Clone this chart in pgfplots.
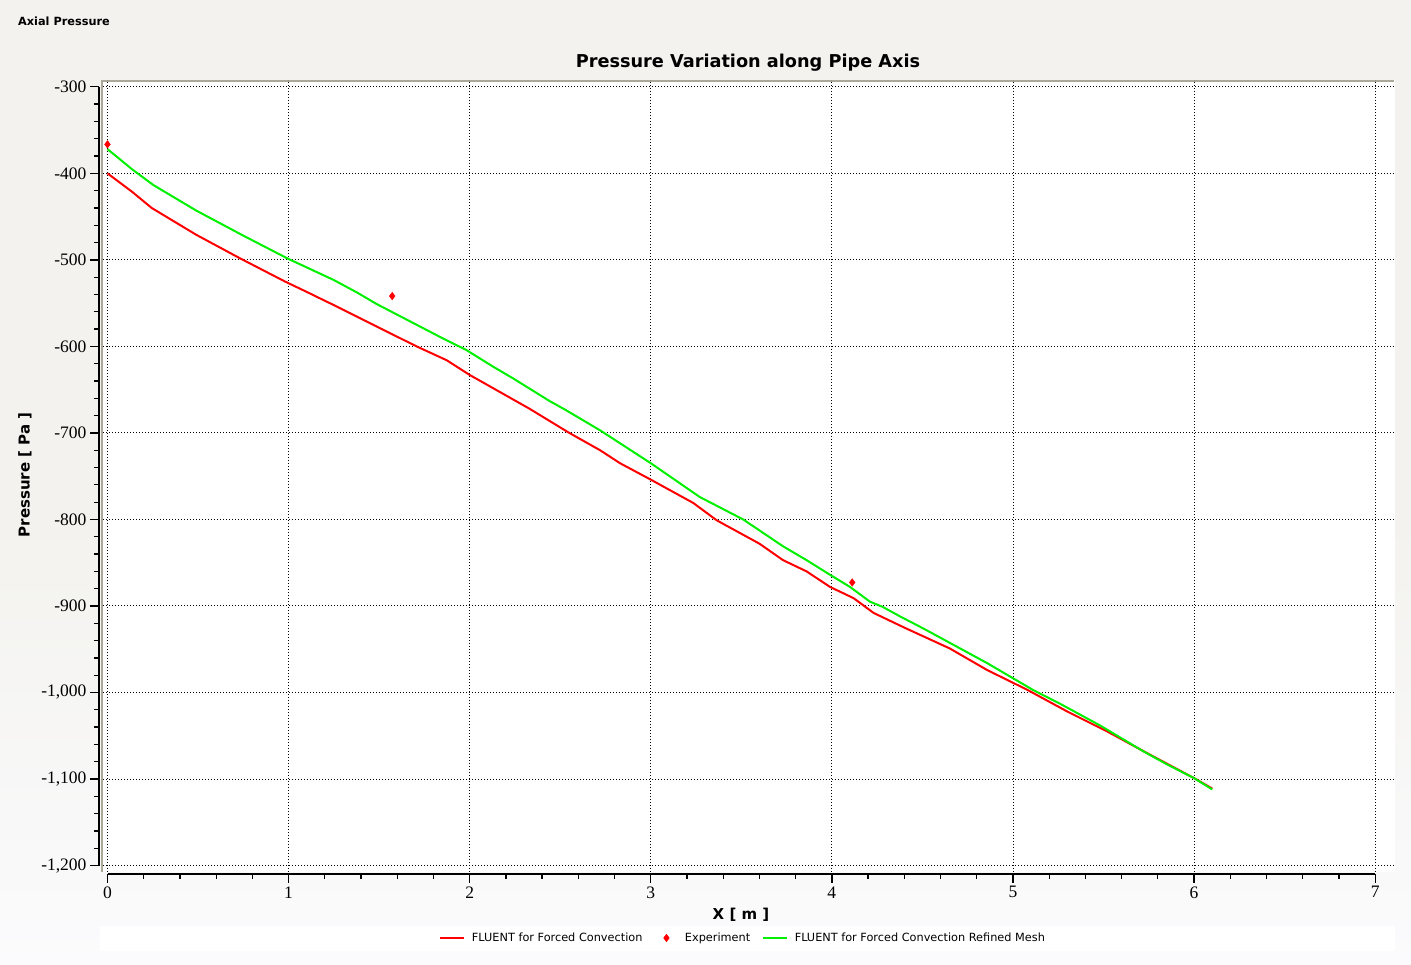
\documentclass[border=0pt]{standalone}
\usepackage{pgfplots}
\pgfplotsset{compat=1.18}
\usepackage{pgfplotstable}
\usepackage{fontspec}
\setmainfont{DejaVu Sans}
\newfontfamily\tickfont{Liberation Serif}
\definecolor{bgtop}{RGB}{243,242,238}
\definecolor{bgbot}{RGB}{251,251,253}
\definecolor{framegrey}{RGB}{172,168,153}
\definecolor{fred}{RGB}{255,0,0}
\definecolor{fgreen}{RGB}{0,240,0}
\pgfplotsset{markleg/.style={legend image code/.code={\path[draw=none,fill=none] (0pt,0pt) -- (24pt,0pt);\draw[mark repeat=2,mark phase=2,##1] plot coordinates {(0pt,0pt) (12pt,0pt) (24pt,0pt)};}}}

\pgfplotstableread{
x y
0 -400
0.134 -421
0.244 -440
0.49 -471
0.73 -498
0.98 -525
1.10 -537
1.247 -552
1.486 -577
1.707 -600
1.873 -616
2.0 -633
2.33 -672
2.44 -686
2.55 -700
2.72 -720
2.83 -735
3.0 -754
3.235 -781
3.364 -801
3.60 -828
3.73 -847
3.86 -860
3.99 -878
4.12 -891
4.23 -908
4.40 -925
4.65 -949
4.857 -974
5.08 -997
5.30 -1022
5.52 -1045
5.74 -1070
6.0 -1099
6.10 -1111
}\redtab

\pgfplotstableread{
x y
0 -372
0.134 -395
0.253 -413.5
0.49 -443
0.75 -472
1.0 -499
1.247 -523
1.376 -537.5
1.486 -551
1.854 -591
1.98 -604
2.13 -623.5
2.24 -637
2.44 -663
2.526 -673
2.72 -697
3.0 -735
3.27 -774
3.51 -800
3.73 -831
3.86 -847
3.99 -864
4.10 -878
4.21 -895
4.28 -901
4.376 -912
4.505 -926
4.857 -966
5.11 -997
5.26 -1013
5.48 -1038
5.72 -1068
5.85 -1083
6.0 -1099
6.10 -1112
}\greentab

\begin{document}
\begin{tikzpicture}
\useasboundingbox (0pt,0pt) rectangle (1411pt,965pt);
\fill[bgtop] (0pt,450pt) rectangle (1411pt,965pt);
\shade[top color=bgtop, bottom color=bgbot] (0pt,0pt) rectangle (1411pt,450.5pt);
\fill[white] (103pt,93pt) rectangle (1395pt,885pt);
\fill[white] (100pt,14pt) rectangle (1395pt,39pt);
\draw[framegrey, line width=2pt] (102pt,93pt) -- (102pt,884pt) -- (1394pt,884pt);

\begin{axis}[at={(103pt,93pt)}, anchor=south west, scale only axis,
  width=1292pt, height=792pt,
  xmin=-0.0248, xmax=7.109, ymin=-1207.4, ymax=-292.1,
  axis line style={draw=none}, major tick length=0pt, minor tick length=0pt,
  xtick={0,...,7}, ytick={-1200,-1100,...,-300}, xticklabels={}, yticklabels={},
  grid=major, major grid style={black, line width=1pt, dash pattern=on 1pt off 2pt},
  legend style={at={(0.4955,-0.0833)}, anchor=center, draw=none, fill=none,
    font=\fontsize{11.3}{13}\selectfont, legend columns=3,
    /tikz/every odd column/.append style={column sep=4.5pt},
    /tikz/every even column/.append style={column sep=10pt}},
  markleg,
]
\addplot[fred, line width=2pt] table {\redtab};
\addplot[only marks, mark=diamond*, mark size=3.8pt, fred, markleg]
  coordinates {(0,-366.5) (1.572,-541.8) (4.112,-872.8)};
\addplot[fgreen, line width=2pt] table {\greentab};
\legend{FLUENT for Forced Convection, Experiment, FLUENT for Forced Convection Refined Mesh}
\end{axis}

\begin{axis}[at={(107.5pt,91pt)}, anchor=south west, scale only axis,
  width=1267.7pt, height=20pt,
  xmin=0, xmax=7, ymin=0, ymax=1,
  axis x line=bottom, axis y line=none,
  axis line style={-, black, line width=1.5pt},
  xtick={0,...,7}, minor x tick num=4, ytick=\empty,
  tick align=outside, major tick length=9pt, minor tick length=5pt,
  tick style={black, line width=1.3pt},
  ticklabel style={font=\tickfont\fontsize{17.5}{18}\selectfont},
  /pgf/number format/assume math mode=true,
]
\end{axis}

\begin{axis}[at={(99pt,99.4pt)}, anchor=south west, scale only axis,
  width=20pt, height=778.8pt,
  xmin=0, xmax=1, ymin=-1200, ymax=-300,
  axis y line=left, axis x line=none,
  axis line style={-, black, line width=1.5pt},
  ytick={-1200,-1100,...,-300}, minor y tick num=4, xtick=\empty,
  tick align=outside, major tick length=9pt, minor tick length=5pt,
  tick style={black, line width=1.3pt},
  ticklabel style={font=\tickfont\fontsize{17.5}{18}\selectfont},
  /pgf/number format/assume math mode=true,
  /pgf/number format/1000 sep={,},
]
\end{axis}

\node[font=\bfseries\fontsize{17.7}{20}\selectfont, anchor=base] at (748pt,897pt) {Pressure Variation along Pipe Axis};
\node[font=\bfseries\fontsize{11.3}{13}\selectfont, anchor=base west, inner sep=0pt] at (18pt,939.5pt) {Axial Pressure};
\node[font=\bfseries\fontsize{15}{17}\selectfont, anchor=base] at (741pt,45pt) {X [ m ]};
\node[font=\bfseries\fontsize{15}{17}\selectfont, rotate=90, anchor=center] at (25pt,490pt) {Pressure [ Pa ]};
\end{tikzpicture}
\end{document}
